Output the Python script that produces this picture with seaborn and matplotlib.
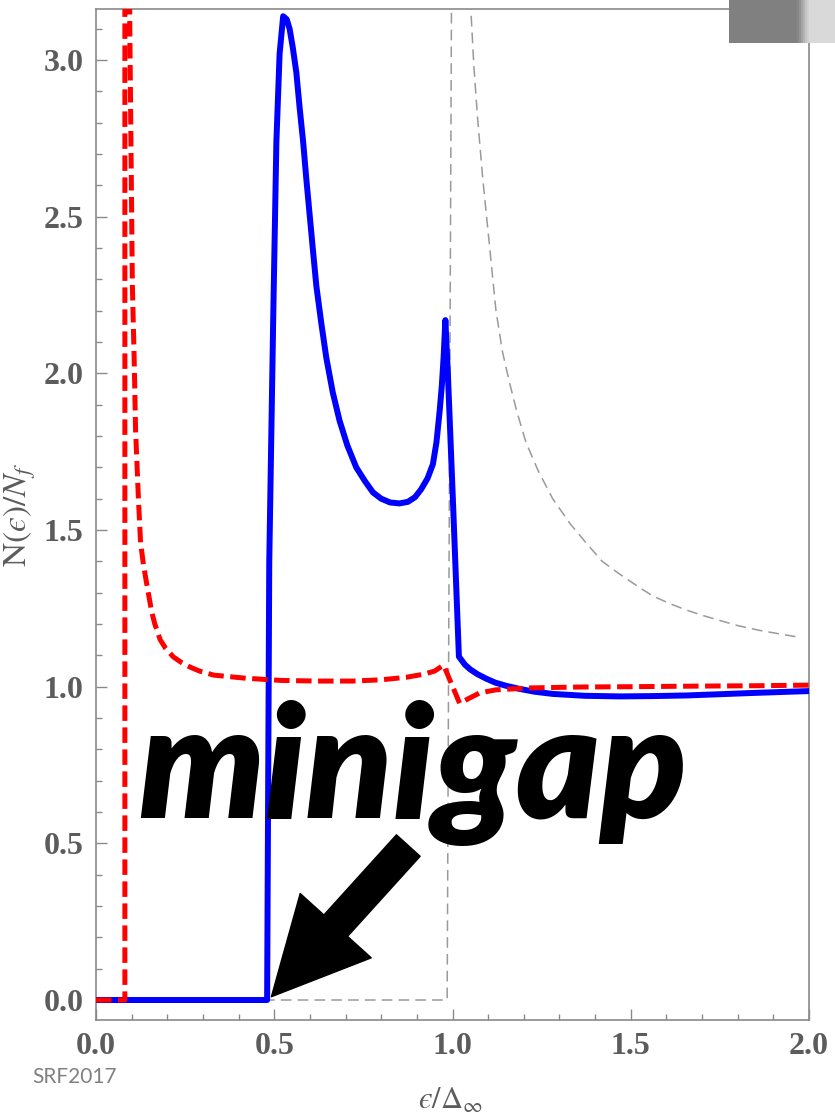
import numpy as np
import pandas as pd
import matplotlib
matplotlib.use("Agg")
import matplotlib.pyplot as plt
from matplotlib.patches import Rectangle
from matplotlib.ticker import MultipleLocator, FormatStrFormatter
import seaborn as sns

# ---- data ----
blue_x = [0.0, 0.48, 0.486, 0.497, 0.506, 0.515, 0.525, 0.535, 0.543, 0.552, 0.562,
          0.571, 0.581, 0.590, 0.599, 0.608, 0.618, 0.632, 0.646, 0.664, 0.683, 0.705,
          0.73, 0.755, 0.777, 0.80, 0.825, 0.851, 0.875, 0.895, 0.912, 0.93, 0.945,
          0.955, 0.964, 0.970, 0.975, 0.98, 0.987, 1.001, 1.018, 1.035, 1.05, 1.07,
          1.094, 1.12, 1.15, 1.188, 1.23, 1.281, 1.37, 1.468, 1.56, 1.655, 1.75,
          1.842, 1.92, 2.0]
blue_y = [0.0, 0.0, 1.40, 2.17, 2.74, 3.02, 3.14, 3.13, 3.10, 3.04, 2.96,
          2.85, 2.74, 2.62, 2.51, 2.40, 2.28, 2.16, 2.05, 1.94, 1.85, 1.77,
          1.70, 1.655, 1.62, 1.60, 1.588, 1.585, 1.59, 1.605, 1.63, 1.665, 1.71,
          1.78, 1.88, 1.96, 2.05, 2.17, 2.00, 1.60, 1.096, 1.07, 1.055, 1.04,
          1.026, 1.013, 1.003, 0.993, 0.984, 0.977, 0.971, 0.969, 0.970, 0.972, 0.976,
          0.980, 0.983, 0.986]

red_x = [0.0, 0.081, 0.081, 0.093, 0.095, 0.098, 0.102, 0.107, 0.111, 0.119, 0.125,
         0.133, 0.142, 0.156, 0.165, 0.18, 0.195, 0.217, 0.24, 0.263, 0.29, 0.33, 0.42,
         0.52, 0.62, 0.72, 0.8, 0.87, 0.92, 0.95, 0.975, 1.02, 1.05, 1.076, 1.122,
         1.216, 1.356, 1.5, 1.7, 1.85, 2.0]
red_y = [0.0, 0.0, 3.4, 3.4, 3.08, 2.74, 2.28, 2.05, 1.82, 1.60, 1.46,
         1.39, 1.33, 1.24, 1.20, 1.15, 1.123, 1.095, 1.077, 1.063, 1.05, 1.037, 1.027,
         1.02, 1.018, 1.018, 1.022, 1.03, 1.04, 1.05, 1.069, 0.947, 0.965, 0.98, 0.99,
         0.996, 0.999, 1.0, 1.002, 1.003, 1.005]

gray_x = [0.0, 0.985, 0.998, 1.049, 1.052, 1.06, 1.07, 1.085, 1.10, 1.122, 1.14,
          1.16, 1.18, 1.206, 1.24, 1.281, 1.33, 1.374, 1.42, 1.468, 1.52, 1.561,
          1.61, 1.655, 1.70, 1.748, 1.80, 1.86, 1.92, 1.972]
gray_y = [0.0, 0.0, 3.4, 3.4, 3.15, 2.98, 2.82, 2.62, 2.45, 2.20, 2.07,
          1.97, 1.88, 1.78, 1.69, 1.60, 1.52, 1.46, 1.40, 1.36, 1.32, 1.29,
          1.265, 1.245, 1.228, 1.212, 1.195, 1.18, 1.168, 1.158]

x_ticks = [0.0, 0.5, 1.0, 1.5, 2.0]
y_ticks = [0.0, 0.5, 1.0, 1.5, 2.0, 2.5, 3.0]

# ---- style ----
sns.set_style("ticks")
plt.rcParams["font.family"] = ["Liberation Serif", "DejaVu Serif"]
plt.rcParams["mathtext.fontset"] = "stix"

fig = plt.figure(figsize=(8.35, 11.17), dpi=100)
ax = fig.add_axes([96 / 835, 1 - 1020 / 1117, (809 - 96) / 835, (1020 - 9) / 1117])

df_gray = pd.DataFrame({"x": gray_x, "y": gray_y})
df_blue = pd.DataFrame({"x": blue_x, "y": blue_y})
df_red = pd.DataFrame({"x": red_x, "y": red_y})

sns.lineplot(data=df_gray, x="x", y="y", ax=ax, sort=False, estimator=None,
             color="#9a9a9a", linewidth=1.1, linestyle=(0, (7.0, 4.0)), zorder=2)
sns.lineplot(data=df_blue, x="x", y="y", ax=ax, sort=False, estimator=None,
             color="#0000ff", linewidth=4.3, zorder=3, solid_joinstyle="round")
sns.lineplot(data=df_red, x="x", y="y", ax=ax, sort=False, estimator=None,
             color="#ff0000", linewidth=3.6, linestyle=(0, (3.1, 1.3)), zorder=4)

ax.set_xlim(0, 2.0)
ax.set_ylim(-0.0638, 3.163)
ax.set_xticks(x_ticks)
ax.set_yticks(y_ticks)
ax.xaxis.set_minor_locator(MultipleLocator(0.1))
ax.yaxis.set_minor_locator(MultipleLocator(0.1))
ax.xaxis.set_major_formatter(FormatStrFormatter("%.1f"))
ax.yaxis.set_major_formatter(FormatStrFormatter("%.1f"))

lab_color = "#5c5c5c"
ax.tick_params(which="both", direction="in", color="#8a8a8a", width=1.0,
               top=False, right=False, labelcolor=lab_color)
ax.tick_params(which="major", length=8, labelsize=23, pad=9)
ax.tick_params(which="minor", length=4.5)
for lbl in ax.get_xticklabels() + ax.get_yticklabels():
    lbl.set_fontweight("bold")
for sp in ax.spines.values():
    sp.set_color("#8a8a8a")
    sp.set_linewidth(1.2)

ax.set_xlabel("$\u03f5/\\Delta_\\infty$", fontsize=22, color=lab_color)
ax.xaxis.set_label_coords(0.497, -0.066)
ax.set_ylabel("$\\mathrm{N}(\u03f5)/N_f$", fontsize=24, color=lab_color)
ax.yaxis.set_label_coords(-0.082, 0.5)

# annotation text and arrow
fig.text(138 / 835, 1 - 818 / 1117, "minigap", fontsize=114, fontweight="heavy",
         style="italic", family=["Lato", "DejaVu Sans"], color="black",
         ha="left", va="baseline", zorder=20)
ax.annotate("", xy=(0.492, 0.0105), xytext=(0.876, 0.493),
            arrowprops=dict(arrowstyle="simple,head_length=6.9,head_width=6.9,tail_width=2.3",
                            color="black", shrinkA=0, shrinkB=0, mutation_scale=10),
            zorder=20)

fig.text(32 / 835, 1 - 1083 / 1117, "SRF2017", fontsize=15, color="#808080",
         family=["Lato", "DejaVu Sans"], ha="left", va="baseline")

# slide decoration top-right
def frect(x0, x1, y0, y1, c):
    fig.add_artist(Rectangle((x0 / 835, 1 - y1 / 1117), (x1 - x0) / 835, (y1 - y0) / 1117,
                             transform=fig.transFigure, facecolor=c, edgecolor="none", zorder=30))

frect(729, 797, 0, 43, "#808080")
grads = ["#878787", "#939393", "#a3a3a3", "#b3b3b3", "#c3c3c3", "#cfcfcf"]
for i, c in enumerate(grads):
    frect(797 + i * 2, 799 + i * 2, 0, 43, c)
frect(809, 835, 0, 43, "#d9d9d9")

fig.savefig("out.png", dpi=100)
